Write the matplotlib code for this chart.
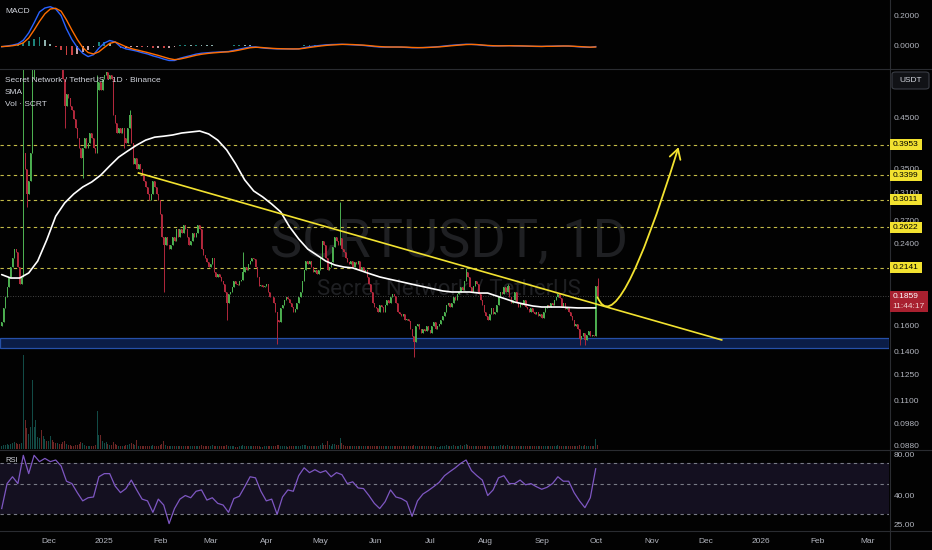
import numpy as np
import pandas as pd
import matplotlib
matplotlib.use("Agg")
import matplotlib.pyplot as plt
import matplotlib.dates as mdates
from matplotlib.lines import Line2D
from matplotlib.patches import Rectangle, FancyBboxPatch, FancyArrowPatch
from matplotlib.path import Path

plt.rcParams['font.family'] = ['Liberation Sans', 'DejaVu Sans']

# ------------------------------------------------------------------ data
start_date = "2024-11-05"
first_open = 0.160

close_nov = [0.163, 0.175, 0.185, 0.195, 0.205, 0.215, 0.225, 0.235, 0.232, 0.215,
             0.198, 0.205, 0.38, 0.35, 0.31, 0.33, 0.38, 0.55, 0.60, 0.62,
             0.63, 0.66, 0.65, 0.70, 0.72, 0.70]
close_dec = [0.76, 0.80, 0.78, 0.74, 0.72, 0.74, 0.71, 0.68, 0.55, 0.48,
             0.51, 0.50, 0.48, 0.47, 0.45, 0.43, 0.41, 0.39, 0.37, 0.39,
             0.41, 0.39, 0.40, 0.42, 0.41, 0.39, 0.38, 0.52, 0.54, 0.52, 0.55]
close_jan = [0.56, 0.57, 0.55, 0.56, 0.55, 0.46, 0.44, 0.42, 0.43, 0.42,
             0.43, 0.41, 0.40, 0.43, 0.46, 0.40, 0.36, 0.37, 0.35, 0.36,
             0.35, 0.34, 0.33, 0.32, 0.31, 0.30, 0.31, 0.33, 0.32, 0.31, 0.30]
close_feb = [0.28, 0.25, 0.24, 0.25, 0.24, 0.235, 0.24, 0.25, 0.245, 0.26,
             0.25, 0.26, 0.255, 0.265, 0.26, 0.25, 0.24, 0.245, 0.255, 0.25,
             0.255, 0.265, 0.26, 0.235, 0.228, 0.225, 0.22, 0.215]
close_mar = [0.218, 0.225, 0.21, 0.205, 0.208, 0.205, 0.20, 0.198, 0.19, 0.18,
             0.188, 0.19, 0.195, 0.20, 0.198, 0.197, 0.20, 0.202, 0.21, 0.215,
             0.212, 0.218, 0.222, 0.225, 0.224, 0.215, 0.205, 0.196, 0.197, 0.195, 0.196]
close_apr = [0.198, 0.19, 0.185, 0.185, 0.18, 0.172, 0.165, 0.163, 0.175, 0.178,
             0.182, 0.185, 0.183, 0.18, 0.176, 0.172, 0.174, 0.18, 0.185, 0.19,
             0.20, 0.212, 0.222, 0.218, 0.222, 0.215, 0.21, 0.212, 0.208, 0.212]
close_may = [0.225, 0.245, 0.24, 0.225, 0.212, 0.215, 0.22, 0.238, 0.25, 0.245,
             0.24, 0.248, 0.235, 0.232, 0.225, 0.22, 0.218, 0.222, 0.215, 0.22,
             0.218, 0.222, 0.212, 0.215, 0.21, 0.212, 0.205, 0.198, 0.19, 0.18, 0.176]
close_jun = [0.175, 0.172, 0.178, 0.176, 0.172, 0.178, 0.182, 0.18, 0.185, 0.188,
             0.186, 0.18, 0.172, 0.17, 0.168, 0.17, 0.165, 0.166, 0.164, 0.158,
             0.152, 0.148, 0.16, 0.162, 0.158, 0.155, 0.158, 0.156, 0.16, 0.157]
close_jul = [0.155, 0.16, 0.163, 0.158, 0.16, 0.162, 0.165, 0.168, 0.172, 0.178,
             0.18, 0.176, 0.18, 0.185, 0.182, 0.188, 0.19, 0.195, 0.192, 0.20,
             0.21, 0.205, 0.195, 0.19, 0.196, 0.20, 0.198, 0.188, 0.182, 0.178, 0.172]
close_aug = [0.168, 0.165, 0.17, 0.175, 0.17, 0.172, 0.178, 0.185, 0.19, 0.188,
             0.195, 0.19, 0.196, 0.185, 0.18, 0.182, 0.19, 0.18, 0.176, 0.18,
             0.178, 0.182, 0.176, 0.174, 0.172, 0.175, 0.172, 0.17, 0.172, 0.168, 0.17]
close_sep = [0.167, 0.172, 0.175, 0.178, 0.176, 0.18, 0.178, 0.182, 0.185, 0.188,
             0.184, 0.176, 0.18, 0.174, 0.176, 0.172, 0.168, 0.165, 0.16, 0.162,
             0.158, 0.15, 0.152, 0.155, 0.149, 0.153, 0.156, 0.152, 0.153, 0.152]
close_oct = [0.196, 0.1859]

vol_nov = [3, 4, 4, 5, 4, 5, 6, 7, 6, 5, 5, 6, 94, 29, 21, 15, 22, 69, 22, 29, 12, 11, 19, 13, 10, 8]
vol_dec = [8, 13, 9, 7, 6, 6, 5, 5, 7, 8, 5, 4, 4, 3, 3, 4, 4, 5, 7, 6, 4, 3, 3, 3, 3, 3, 4, 38, 14, 14, 8]
vol_jan = [6, 7, 5, 4, 4, 7, 5, 4, 3, 3, 3, 3, 4, 4, 5, 6, 5, 4, 9, 3, 3, 3, 3, 3, 3, 3, 3, 4, 3, 3, 3]
vol_feb = [4, 5, 8, 4, 3, 3, 3, 3, 3, 3, 3, 3, 3, 3, 3, 3, 3, 3, 3, 3, 3, 3, 3, 4, 3, 3, 3, 3]
vol_mar = [3, 4, 3, 3, 3, 3, 3, 3, 3, 4, 3, 3, 3, 3, 2, 2, 3, 3, 4, 3, 3, 3, 3, 3, 3, 3, 3, 3, 2, 2, 3]
vol_apr = [3, 3, 3, 3, 3, 3, 4, 4, 3, 3, 3, 3, 2, 3, 3, 3, 3, 3, 3, 3, 4, 4, 4, 3, 3, 3, 3, 3, 3, 3]
vol_may = [4, 6, 4, 4, 8, 4, 3, 5, 5, 4, 4, 11, 6, 4, 3, 3, 3, 3, 3, 3, 3, 3, 3, 3, 3, 3, 3, 3, 3, 3, 3]
vol_jun = [3, 3, 3, 3, 3, 3, 3, 3, 3, 3, 3, 3, 3, 3, 3, 3, 3, 3, 3, 3, 3, 4, 3, 3, 3, 3, 3, 3, 3, 3]
vol_jul = [3, 3, 3, 3, 2, 2, 3, 3, 3, 4, 3, 3, 3, 4, 3, 3, 3, 4, 3, 4, 5, 4, 3, 3, 3, 3, 3, 3, 3, 3, 3]
vol_aug = [3, 3, 3, 3, 3, 3, 3, 3, 4, 3, 4, 3, 4, 3, 3, 3, 3, 3, 3, 3, 3, 3, 3, 3, 3, 3, 3, 3, 3, 3, 3]
vol_sep = [3, 3, 3, 3, 3, 3, 3, 3, 3, 4, 3, 3, 3, 3, 3, 3, 3, 3, 3, 3, 3, 4, 3, 3, 4, 3, 3, 3, 3, 3]
vol_oct = [10, 4]

wick_highs = {"2024-11-17": 0.62, "2024-11-22": 0.58, "2024-12-28": 0.56, "2025-01-15": 0.47,
              "2025-02-01": 0.30, "2025-03-19": 0.232, "2025-05-12": 0.297, "2025-07-21": 0.214,
              "2025-08-13": 0.198, "2025-10-02": 0.204}
wick_lows = {"2024-11-19": 0.29, "2024-12-10": 0.43, "2024-12-20": 0.335, "2025-01-12": 0.39,
             "2025-02-03": 0.19, "2025-03-10": 0.165, "2025-04-07": 0.1465, "2025-06-22": 0.137,
             "2025-09-22": 0.146, "2025-09-25": 0.146}

# SMA (white line), sampled every 5 days from 2024-11-05
sma_start = "2024-11-05"
sma_vals = [0.207, 0.2035, 0.2035, 0.2087, 0.2215, 0.246,
            0.277, 0.296, 0.3095, 0.3205, 0.3286, 0.340,
            0.356, 0.372, 0.3836, 0.395, 0.405, 0.411,
            0.413, 0.4155, 0.4196, 0.4217, 0.4238, 0.4176,
            0.405, 0.3855, 0.3595, 0.332, 0.3142, 0.305,
            0.2944, 0.283, 0.2625, 0.2473, 0.2352, 0.2283,
            0.2215, 0.2172, 0.215, 0.214, 0.2108, 0.2076,
            0.2046, 0.2025, 0.2005, 0.1985, 0.1965, 0.1946,
            0.1927, 0.1908, 0.1898, 0.1898, 0.1898, 0.1888,
            0.1888, 0.186, 0.1833, 0.1805, 0.1787, 0.177,
            0.1761, 0.1761, 0.1761, 0.1757, 0.1753, 0.1753, 0.1753]

# indicators sampled every 3 days from 2024-11-05
ind_start = "2024-11-05"
macd_vals = [-0.005, 0.0, 0.006, 0.015, 0.04, 0.09, 0.16, 0.235, 0.262, 0.271,
             0.255, 0.21, 0.118, 0.045, -0.01, -0.05, -0.073, -0.06, -0.015, 0.02,
             0.038, 0.028, -0.005, -0.02, -0.027, -0.035, -0.046, -0.055, -0.068, -0.078,
             -0.09, -0.1, -0.1, -0.085, -0.075, -0.066, -0.056, -0.05, -0.047, -0.044,
             -0.042, -0.04, -0.038, -0.03, -0.022, -0.014, -0.007, -0.006, -0.012, -0.016,
             -0.018, -0.02, -0.02, -0.02, -0.021, -0.02, -0.012, -0.005, 0.0, 0.004,
             0.008, 0.01, 0.011, 0.012, 0.01, 0.008, 0.006, 0.004, 0.0, -0.004,
             -0.007, -0.008, -0.007, -0.007, -0.008, -0.01, -0.012, -0.012, -0.011, -0.009,
             -0.007, -0.004, 0.0, 0.004, 0.007, 0.01, 0.012, 0.011, 0.009, 0.005,
             0.002, 0.0, 0.001, 0.002, 0.002, 0.001, 0.0, -0.001, -0.002, -0.003,
             -0.003, -0.002, -0.001, 0.0, 0.0, -0.001, -0.003, -0.006, -0.008, -0.009, -0.004]
signal_vals = [-0.004, -0.002, 0.002, 0.008, 0.022, 0.055, 0.11, 0.17, 0.222, 0.255,
               0.26, 0.24, 0.18, 0.11, 0.045, -0.01, -0.045, -0.055, -0.04, -0.01,
               0.018, 0.028, 0.012, -0.005, -0.018, -0.027, -0.036, -0.045, -0.055, -0.065,
               -0.076, -0.087, -0.094, -0.09, -0.082, -0.073, -0.064, -0.057, -0.052, -0.048,
               -0.045, -0.042, -0.04, -0.035, -0.028, -0.02, -0.012, -0.009, -0.01, -0.013,
               -0.016, -0.018, -0.019, -0.02, -0.02, -0.02, -0.016, -0.01, -0.005, 0.0,
               0.004, 0.007, 0.009, 0.011, 0.011, 0.01, 0.008, 0.006, 0.003, -0.001,
               -0.004, -0.006, -0.007, -0.007, -0.007, -0.008, -0.01, -0.011, -0.011, -0.01,
               -0.008, -0.006, -0.003, 0.001, 0.004, 0.007, 0.01, 0.011, 0.01, 0.007,
               0.004, 0.002, 0.001, 0.001, 0.002, 0.001, 0.001, 0.0, -0.001, -0.002,
               -0.003, -0.002, -0.002, -0.001, 0.0, 0.0, -0.002, -0.004, -0.006, -0.008, -0.007]
rsi_vals = [33, 50, 56, 50, 80, 59, 80, 72, 76, 72,
            74, 67, 52, 50, 43, 37.5, 39.5, 40, 56, 59,
            59, 48, 43, 46, 53, 45, 38.6, 37.5, 31, 38.6,
            35, 25.7, 33, 38.6, 41, 39.5, 44, 45, 38, 39.5,
            36, 35, 31, 39, 40.5, 47.4, 56, 55, 44, 37.5,
            38.6, 30, 40, 45, 44, 57, 65, 60, 63, 60,
            62, 56, 60, 58, 50, 51.5, 46.5, 46, 41, 36,
            33, 37, 45, 40, 39, 37, 29, 37.5, 42, 44.5,
            47.5, 51, 57, 61, 65, 70, 74, 62, 57, 53,
            41, 45, 55, 57, 50, 50, 53, 49, 50, 47.5,
            45.5, 47, 50, 56, 52, 52, 43, 37.5, 33.5, 39.5, 64]

levels = [0.3953, 0.3399, 0.3011, 0.2622, 0.2141]
level_labels = ["0.3953", "0.3399", "0.3011", "0.2622", "0.2141"]
price_ticks = [0.45, 0.35, 0.31, 0.27, 0.24, 0.16, 0.14, 0.125, 0.11, 0.098, 0.088]
price_tick_labels = ["0.4500", "0.3500", "0.3100", "0.2700", "0.2400", "0.1600",
                     "0.1400", "0.1250", "0.1100", "0.0980", "0.0880"]
last_price = 0.1859
last_price_label = "0.1859"
countdown = "11:44:17"
support_zone = (0.1435, 0.151)
trend_dates = ["2025-01-20", "2025-12-10"]
trend_prices = [0.3437, 0.1494]
curve_dates = ["2025-10-02", "2025-10-13", "2025-11-16"]
curve_prices = [0.185, 0.1457, 0.391]
macd_ticks = [0.2, 0.0]
macd_tick_labels = ["0.2000", "0.0000"]
rsi_levels = [70, 50, 30]
rsi_ticks = [80, 40, 25]
rsi_tick_labels = ["80.00", "40.00", "25.00"]
month_dates = ["2024-12-01", "2025-01-01", "2025-02-01", "2025-03-01", "2025-04-01",
               "2025-05-01", "2025-06-01", "2025-07-01", "2025-08-01", "2025-09-01",
               "2025-10-01", "2025-11-01", "2025-12-01", "2026-01-01", "2026-02-01", "2026-03-01"]
month_labels = ["Dec", "2025", "Feb", "Mar", "Apr", "May", "Jun", "Jul", "Aug", "Sep",
                "Oct", "Nov", "Dec", "2026", "Feb", "Mar"]

# ------------------------------------------------------------------ assemble
closes = np.array(close_nov + close_dec + close_jan + close_feb + close_mar + close_apr +
                  close_may + close_jun + close_jul + close_aug + close_sep + close_oct)
vols = np.array(vol_nov + vol_dec + vol_jan + vol_feb + vol_mar + vol_apr +
                vol_may + vol_jun + vol_jul + vol_aug + vol_sep + vol_oct, dtype=float)
dates = pd.date_range(start_date, periods=len(closes), freq="D")
opens = np.concatenate([[first_open], closes[:-1]])
highs = np.maximum(opens, closes)
lows = np.minimum(opens, closes)
for d, v in wick_highs.items():
    i = dates.get_loc(pd.Timestamp(d))
    highs[i] = max(highs[i], v)
for d, v in wick_lows.items():
    i = dates.get_loc(pd.Timestamp(d))
    lows[i] = min(lows[i], v)
xd = mdates.date2num(dates)

sma_x = mdates.date2num(pd.date_range(sma_start, periods=len(sma_vals), freq="5D"))
ind_x = mdates.date2num(pd.date_range(ind_start, periods=len(macd_vals), freq="3D"))
macd_a = np.array(macd_vals)
sig_a = np.array(signal_vals)
hist = macd_a - sig_a

# ------------------------------------------------------------------ figure
W, H = 932, 550
fig = plt.figure(figsize=(W / 100, H / 100), dpi=100)
BG = "#020202"
fig.patch.set_facecolor(BG)
TXT = "#b2b5be"
SEP = "#2a2c31"
UP = "#4caf50"
DN = "#b2283c"
YEL = "#f2e230"
FS = 6.0


def fx(px):
    return px / W


def fy(py):
    return 1 - py / H


PLOT_R = 889
ax_m = fig.add_axes([0, fy(68), fx(PLOT_R), 68 / H])
ax_p = fig.add_axes([0, fy(449), fx(PLOT_R), (449 - 69) / H])
ax_r = fig.add_axes([0, fy(530), fx(PLOT_R), (530 - 450) / H])
ax_v = ax_p.twinx()
ax_v.set_zorder(1)
ax_p.set_zorder(3)

d_ref = mdates.date2num(pd.Timestamp("2024-12-01"))
ppd = 1.80
x_left = d_ref - 48.5 / ppd
x_right = d_ref + (PLOT_R - 48.5) / ppd

for a in (ax_m, ax_p, ax_r, ax_v):
    a.set_xlim(x_left, x_right)
    a.set_facecolor("none")
    for s in a.spines.values():
        s.set_visible(False)
    a.tick_params(which="both", left=False, right=False, bottom=False, top=False,
                  labelleft=False, labelright=False, labelbottom=False)

# ---- price pane
ax_p.set_yscale("log")
ax_p.set_ylim(0.0867, 0.5775)
ax_p.tick_params(which="both", left=False, right=False, labelleft=False, labelright=False,
                 bottom=False, labelbottom=False)
ax_v.set_ylim(0, 380)
ax_v.set_yticks([])

# watermark
ax_v.text(0.505, 0.545, "SCRTUSDT, 1D", transform=ax_v.transAxes, ha="center", va="center",
          fontsize=39, color="#1f2023", family=["Roboto", "DejaVu Sans"], zorder=0)
ax_v.text(0.505, 0.42, "Secret Network / TetherUS", transform=ax_v.transAxes, ha="center",
          va="center", fontsize=16, color="#1f2023", family=["Roboto", "DejaVu Sans"], zorder=0)

vcol = np.where(closes >= opens, "#26a69a", "#ef5350")
ax_v.bar(xd, vols, width=0.62, color=vcol, alpha=0.45, linewidth=0, zorder=1)

ax_p.axhspan(support_zone[0], support_zone[1], facecolor="#0b1d47", edgecolor="#2650a8",
             linewidth=0.9, zorder=1)
for lv in levels:
    ax_p.axhline(lv, color="#c4bb48", lw=0.8, ls=(0, (3, 3)), zorder=1.5)
ax_p.axhline(last_price, color="#5a5a5a", lw=0.6, ls=(0, (1, 2)), zorder=1.5)

ccol = np.where(closes >= opens, UP, DN)
ax_p.vlines(xd, lows, highs, colors=ccol, linewidth=0.7, zorder=2)
ax_p.bar(xd, np.abs(closes - opens), bottom=np.minimum(opens, closes), width=0.62,
         color=ccol, linewidth=0, zorder=2.1)

ax_p.plot(sma_x, sma_vals, color="white", lw=1.2, zorder=3, solid_capstyle="round")
ax_p.plot(mdates.date2num(pd.to_datetime(trend_dates)), trend_prices, color=YEL, lw=1.2, zorder=4)

cx = mdates.date2num(pd.to_datetime(curve_dates))
curve_path = Path(list(zip(cx, curve_prices)), [Path.MOVETO, Path.CURVE3, Path.CURVE3])
arrow = FancyArrowPatch(path=curve_path, arrowstyle="->,head_length=0.7,head_width=0.4",
                        mutation_scale=10, color=YEL, lw=1.3, zorder=4)
ax_p.add_patch(arrow)

# ---- MACD pane
ax_m.set_ylim(-0.1517, 0.3172)
hcol = []
for i, h in enumerate(hist):
    prev = hist[i - 1] if i > 0 else h
    if h >= 0:
        hcol.append("#26a69a" if h >= prev else "#b2dfdb")
    else:
        hcol.append("#ffcdd2" if h >= prev else "#ff5252")
ax_m.bar(ind_x, hist, width=1.0, color=hcol, alpha=0.8, linewidth=0, zorder=1)
ax_m.plot(ind_x, macd_vals, color="#2962ff", lw=1.0, zorder=2)
ax_m.plot(ind_x, signal_vals, color="#ff6d00", lw=1.0, zorder=3)

# ---- RSI pane
ax_r.set_yscale("log")
ax_r.set_ylim(23.1, 87.4)
ax_r.axhspan(30, 70, facecolor="#141020", lw=0, zorder=0)
for lv in rsi_levels:
    ax_r.axhline(lv, color="#787b86", lw=0.8, ls=(0, (3, 3)), zorder=1)
ax_r.plot(ind_x, rsi_vals, color="#7e57c2", lw=0.9, zorder=2)
ax_r.set_xticks(mdates.date2num(pd.to_datetime(month_dates)))
ax_r.set_xticklabels(month_labels)
ax_r.tick_params(axis="x", which="both", bottom=False, labelbottom=True, length=0, pad=6,
                 labelsize=FS, labelcolor=TXT)
ax_r.tick_params(axis="y", which="both", left=False, labelleft=False)
ax_r.minorticks_off()


# ---- right axis labels
def yfig(ax, v):
    return ax.transData.transform((ax.get_xlim()[0], v))[1] / fig.bbox.height


LX = fx(894)
for v, s in zip(price_ticks, price_tick_labels):
    fig.text(LX, yfig(ax_p, v), s, fontsize=FS, color=TXT, ha="left", va="center", zorder=10)
for v, s in zip(macd_ticks, macd_tick_labels):
    fig.text(LX, yfig(ax_m, v), s, fontsize=FS, color=TXT, ha="left", va="center", zorder=10)
for v, s in zip(rsi_ticks, rsi_tick_labels):
    fig.text(LX, yfig(ax_r, v), s, fontsize=FS, color=TXT, ha="left", va="center", zorder=10)

for v, s in zip(levels, level_labels):
    yc = yfig(ax_p, v)
    fig.add_artist(Rectangle((fx(890), yc - 5.5 / H), 32 / W, 11 / H, transform=fig.transFigure,
                             facecolor=YEL, edgecolor="none", zorder=11))
    fig.text(fx(892.5), yc, s, fontsize=FS, color="#000000", ha="left", va="center", zorder=12)

yc = yfig(ax_p, last_price)
fig.add_artist(Rectangle((fx(890), yc - 16 / H), 38 / W, 21.5 / H, transform=fig.transFigure,
                         facecolor="#a8202f", edgecolor="none", zorder=11))
fig.text(fx(892.5), yc, last_price_label, fontsize=FS, color="white", ha="left", va="center", zorder=12)
fig.text(fx(892.5), yc - 10 / H, countdown, fontsize=FS, color="#f0d0d0", ha="left", va="center", zorder=12)

fig.add_artist(FancyBboxPatch((fx(892), fy(89)), 37 / W, 17 / H, transform=fig.transFigure,
                              boxstyle="round,pad=0,rounding_size=0.004", facecolor="#111216",
                              edgecolor="#3a3d45", lw=0.8, zorder=11))
fig.text(fx(910.5), fy(80.5), "USDT", fontsize=FS, color="#d1d4dc", ha="center", va="center", zorder=12)

# ---- legends
LC = "#d1d4dc"
fig.text(fx(5), fy(11.5), "MACD", fontsize=FS, color=LC, ha="left", va="center", zorder=10)
fig.text(fx(5), fy(80.7), "Secret Network / TetherUS · 1D · Binance", fontsize=FS, color=LC,
         ha="left", va="center", zorder=10)
fig.text(fx(5), fy(92.7), "SMA", fontsize=FS, color=LC, ha="left", va="center", zorder=10)
fig.text(fx(5), fy(104.3), "Vol · SCRT", fontsize=FS, color=LC, ha="left", va="center", zorder=10)
fig.text(fx(5), fy(460.7), "RSI", fontsize=FS - 0.5, color=LC, ha="left", va="center", zorder=10)

# ---- separators
for yy in (68.5, 449.5, 530.5):
    fig.add_artist(Line2D([0, 1], [fy(yy), fy(yy)], transform=fig.transFigure, color=SEP, lw=0.8, zorder=9))
fig.add_artist(Line2D([fx(889.5), fx(889.5)], [0, 1], transform=fig.transFigure, color=SEP, lw=0.8, zorder=9))

fig.savefig("out.png", dpi=100, facecolor=fig.get_facecolor())
